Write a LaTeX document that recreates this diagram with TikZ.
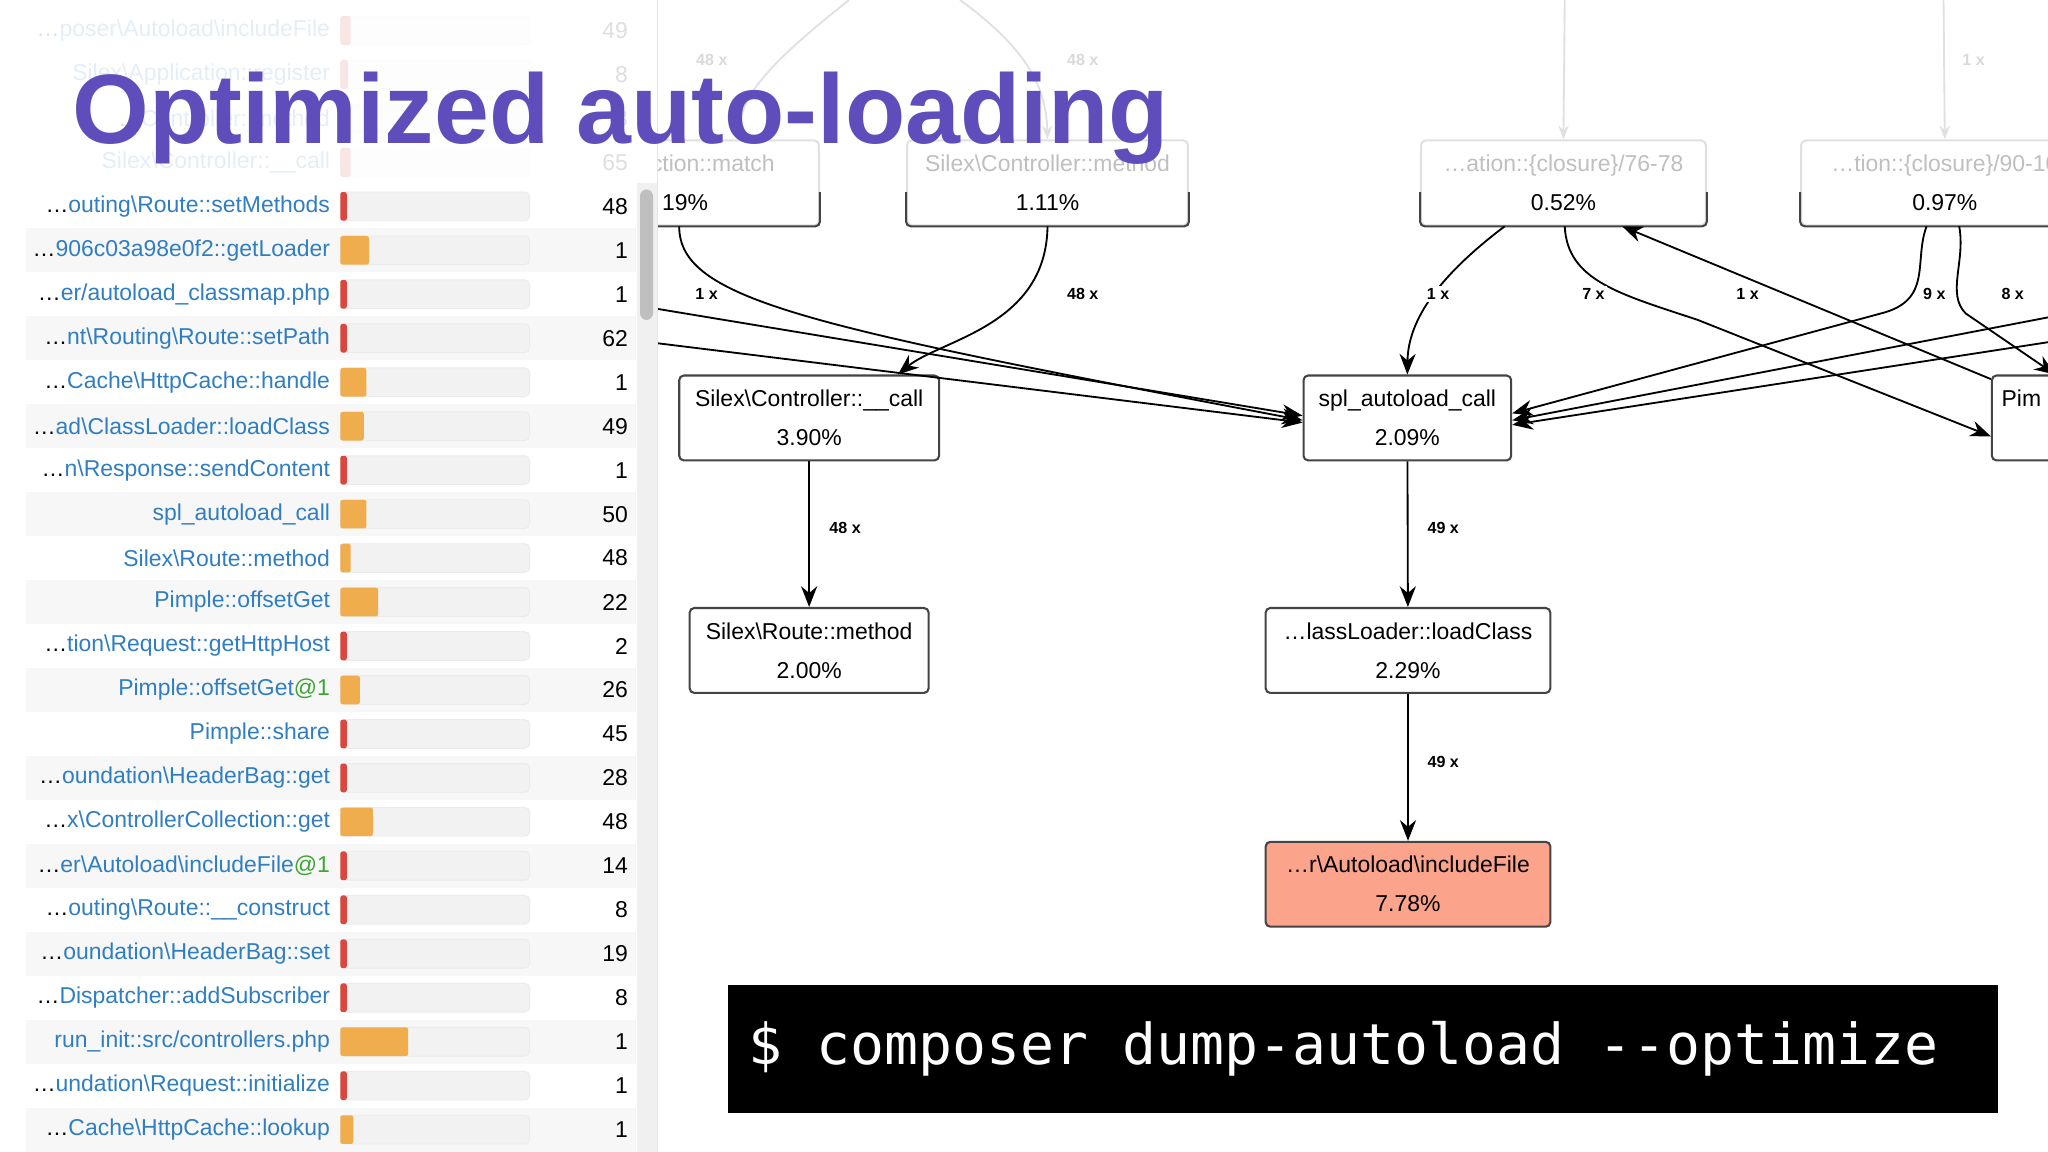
\documentclass[tikz,border=0pt]{standalone}
\usepackage{fontspec}
\setmainfont{Liberation Sans}
\newfontfamily\cmdfont{DejaVu Sans Mono}
\usetikzlibrary{arrows.meta,positioning,calc}
\definecolor{TitlePurple}{HTML}{5E4DBB}
\definecolor{LinkBlue}{HTML}{2F7EC1}
\definecolor{OkGreen}{HTML}{3FA535}
\definecolor{BarRed}{HTML}{D9473E}
\definecolor{BarOrange}{HTML}{F0AD4E}
\definecolor{BarGray}{HTML}{F2F2F2}
\definecolor{RowGray}{HTML}{F7F7F7}
\definecolor{HotSalmon}{HTML}{FBA38B}
\definecolor{EdgeGray}{HTML}{444444}
\newcommand\bsl{\textbackslash}
\newcommand\dd{\textcolor{black}{\ldots}}
% one row of the function list: index, label, bar colour, bar width, count
\newcommand\lrow[5]{%
  \pgfmathsetmacro\ry{158+#1*33.66}
  \node[lbl] (lab#1) at (253,\ry) {#2};
  \node[barbg] (bg#1) at (333,\ry) {};
  \node[bar, fill=#3, minimum width=#4*0.02cm] (bar#1) at (bg#1.west) {};
  \node[cnt] (cnt#1) at (481,\ry) {#5};
}
\begin{document}
\begin{tikzpicture}[x=0.02cm, y=-0.02cm,
    lbl/.style={anchor=east, inner sep=0pt, font=\fontsize{10}{12}\selectfont, text=LinkBlue},
    cnt/.style={anchor=east, inner sep=0pt, font=\fontsize{10}{12}\selectfont},
    barbg/.style={rectangle, rounded corners=2pt, fill=BarGray, draw=black!8, minimum width=2.9cm, minimum height=0.44cm, inner sep=0pt},
    bar/.style={rectangle, rounded corners=1pt, anchor=west, minimum height=0.44cm, inner sep=0pt},
    fn/.style={rectangle, rounded corners=2pt, draw=EdgeGray, line width=0.9pt, fill=white, align=center, minimum height=1.3cm, font=\fontsize{10}{12}\selectfont, inner sep=2pt},
    elab/.style={fill=white, inner sep=1pt, font=\fontsize{7}{8}\selectfont\bfseries},
    arrow/.style={-{Stealth[length=9pt, width=7pt]}, line width=0.8pt},
    faint/.style={draw=black!12, line width=0.8pt}
  ]
  \useasboundingbox (0,0) rectangle (1568,882);
  \clip (0,0) rectangle (1568,882);

  % Call graph nodes
  \node[fn, draw=black!12, minimum width=4.4cm] (match) at (517,140) {\textcolor{black!25}{\ldots Collection::match}\\[5pt]\hspace*{0.3cm}19\%};
  \node[fn, draw=black!12, minimum width=4.3cm] (ctrlmeth) at (802,140) {\textcolor{black!25}{Silex\bsl Controller::method}\\[5pt]1.11\%};
  \node[fn, draw=black!12, minimum width=4.36cm] (clos76) at (1197,140) {\textcolor{black!25}{\ldots ation::\{closure\}/76-78}\\[5pt]0.52\%};
  \node[fn, draw=black!12, minimum width=4.4cm, text width=4.2cm] (clos90) at (1489,140) {\textcolor{black!25}{\ldots tion::\{closure\}/90-10}\\[5pt]0.97\%};
  \node[fn, minimum width=3.98cm] (ccall) at (619.5,320) {Silex\bsl Controller::\_\_call\\[5pt]3.90\%};
  \node[fn, minimum width=3.18cm] (spl) at (1077.5,320) {spl\_autoload\_call\\[5pt]2.09\%};
  \node[fn, minimum width=3.0cm, text width=2.7cm, align=left] (pim) at (1600,320) {Pim\\[5pt]\phantom{0}};
  \node[fn, minimum width=3.66cm] (rmeth) at (619.5,498) {Silex\bsl Route::method\\[5pt]2.00\%};
  \node[fn, minimum width=4.36cm] (lclass) at (1078,498) {\ldots lassLoader::loadClass\\[5pt]2.29\%};
  \node[fn, minimum width=4.36cm, fill=HotSalmon] (incl) at (1078,677) {\ldots r\bsl Autoload\bsl includeFile\\[5pt]7.78\%};

  % dark lower borders of the half faded boxes
  \foreach \n in {match,ctrlmeth,clos76,clos90} {
    \draw[EdgeGray, line width=0.9pt, rounded corners=2pt]
      (\n.west |- 0,147) -- (\n.south west) -- (\n.south east) -- (\n.east |- 0,147);
  }

  % coordinates at the cut edges
  \coordinate (inL1) at (440,226);
  \coordinate (inL2) at (440,255);
  \coordinate (inR1) at (1568,243);
  \coordinate (inR2) at (1568,262);
  \coordinate (topA) at (650,0);
  \coordinate (topB) at (735,0);
  \coordinate (top76) at (1198,0);
  \coordinate (top90) at (1488,0);

  % faded edges at the top
  \draw[faint, -{Stealth[length=6pt]}] (topA) .. controls (600,40) and (566,70) .. (match.north -| 566,0);
  \draw[faint, -{Stealth[length=6pt]}] (topB) .. controls (790,40) and (801,70) .. (ctrlmeth.north);
  \draw[faint, -{Stealth[length=6pt]}] (top76) -- (clos76.north);
  \draw[faint, -{Stealth[length=6pt]}] (top90) -- (clos90.north);
  \node[elab, text=black!15] (f48a) at (545,46) {48 x};
  \node[elab, text=black!15] (f48b) at (829,46) {48 x};
  \node[elab, text=black!15] (f1c) at (1511,46) {1 x};

  % edges into spl_autoload_call
  \draw[arrow] (inL1) -- ([yshift=1pt]spl.west);
  \draw[arrow] (inL2) -- ([yshift=-2pt]spl.west);
  \draw[arrow] (match.south -| 520,0) .. controls (520,230) and (620,250) .. ([yshift=-1pt]spl.west);
  \draw[arrow] (clos76.south -| 1152,0) .. controls (1110,205) and (1078,240) .. (spl.north);
  \draw[arrow] (clos90.south -| 1475,0) .. controls (1465,200) and (1480,230) .. (1440,240) -- ([yshift=2pt]spl.east);
  \draw[arrow] (inR1) -- ([yshift=-1pt]spl.east);
  \draw[arrow] (inR2) -- ([yshift=-3pt]spl.east);

  % other edges between nodes
  \draw[arrow] (ctrlmeth.south) .. controls (801,250) and (720,260) .. ([xshift=1.36cm]ccall.north);
  \draw[arrow] (clos76.south -| 1198,0) .. controls (1200,215) and (1240,225) .. (1300,245) -- ([yshift=-8pt]pim.west);
  \draw[arrow] ([yshift=-2pt]pim.north west) -- (clos76.south -| 1242,0);
  \draw[arrow] (clos90.south -| 1500,0) .. controls (1505,200) and (1490,225) .. (1505,240) -- ([xshift=28pt]pim.north west);
  \draw[arrow] (ccall) -- (rmeth);
  \draw[arrow] (spl) -- (lclass);
  \draw[arrow] (lclass) -- (incl);

  % edge labels
  \node[elab] (c1) at (541,225) {1 x};
  \node[elab] (c48) at (829,225) {48 x};
  \node[elab] (c1b) at (1101,225) {1 x};
  \node[elab] (c7) at (1220,225) {7 x};
  \node[elab] (c1c) at (1338,225) {1 x};
  \node[elab] (c9) at (1481,225) {9 x};
  \node[elab] (c8) at (1541,225) {8 x};
  \node[elab] (c48b) at (647,404) {48 x};
  \node[elab] (c49a) at (1105,404) {49 x};
  \node[elab] (c49b) at (1105,583) {49 x};

  % Left panel: list of functions (covers the graph)
  \fill[white] (0,0) rectangle (503,882);
  \foreach \i in {1,3,...,21} {
    \fill[RowGray] (20,{158+\i*33.66-16.8}) rectangle (487,{158+\i*33.66+16.8});
  }
  \lrow{0}{\dd outing\bsl Route::setMethods}{BarRed}{5}{48}
  \lrow{1}{\dd 906c03a98e0f2::getLoader}{BarOrange}{22}{1}
  \lrow{2}{\dd er/autoload\_classmap.php}{BarRed}{5}{1}
  \lrow{3}{\dd nt\bsl Routing\bsl Route::setPath}{BarRed}{5}{62}
  \lrow{4}{\dd Cache\bsl HttpCache::handle}{BarOrange}{20}{1}
  \lrow{5}{\dd ad\bsl ClassLoader::loadClass}{BarOrange}{18}{49}
  \lrow{6}{\dd n\bsl Response::sendContent}{BarRed}{5}{1}
  \lrow{7}{spl\_autoload\_call}{BarOrange}{20}{50}
  \lrow{8}{Silex\bsl Route::method}{BarOrange}{8}{48}
  \lrow{9}{Pimple::offsetGet}{BarOrange}{29}{22}
  \lrow{10}{\dd tion\bsl Request::getHttpHost}{BarRed}{5}{2}
  \lrow{11}{Pimple::offsetGet\textcolor{OkGreen}{@1}}{BarOrange}{15}{26}
  \lrow{12}{Pimple::share}{BarRed}{5}{45}
  \lrow{13}{\dd oundation\bsl HeaderBag::get}{BarRed}{5}{28}
  \lrow{14}{\dd x\bsl ControllerCollection::get}{BarOrange}{25}{48}
  \lrow{15}{\dd er\bsl Autoload\bsl includeFile\textcolor{OkGreen}{@1}}{BarRed}{5}{14}
  \lrow{16}{\dd outing\bsl Route::\_\_construct}{BarRed}{5}{8}
  \lrow{17}{\dd oundation\bsl HeaderBag::set}{BarRed}{5}{19}
  \lrow{18}{\dd Dispatcher::addSubscriber}{BarRed}{5}{8}
  \lrow{19}{run\_init::src/controllers.php}{BarOrange}{52}{1}
  \lrow{20}{\dd undation\bsl Request::initialize}{BarRed}{5}{1}
  \lrow{21}{\dd Cache\bsl HttpCache::lookup}{BarOrange}{10}{1}

  % faded rows under the title
  \begin{scope}[opacity=0.13]
    \lrow{-4}{\dd poser\bsl Autoload\bsl includeFile}{BarRed}{8}{49}
    \lrow{-3}{Silex\bsl Application::register}{BarRed}{6}{8}
    \lrow{-2}{\dd Controller::method}{BarRed}{6}{3}
    \lrow{-1}{Silex\bsl Controller::\_\_call}{BarRed}{8}{65}
  \end{scope}

  % scrollbar and divider
  \fill[black!6] (488,140) rectangle (503,882);
  \fill[black!25, rounded corners=3pt] (490,145) rectangle (500,245);
  \draw[black!10] (503,0) -- (503,882);

  % title and command
  \node[anchor=base west, inner sep=0pt, text=TitlePurple, font=\fontsize{43}{50}\selectfont\bfseries] (title) at (55,110) {Optimized auto-loading};
  \fill[black] (557,754) rectangle (1530,852);
  \node[anchor=west, inner sep=0pt, text=white, font=\cmdfont\fontsize{24.6}{30}\selectfont] (cmd) at (573,803) {\$ composer dump-autoload --optimize};
\end{tikzpicture}
\end{document}
